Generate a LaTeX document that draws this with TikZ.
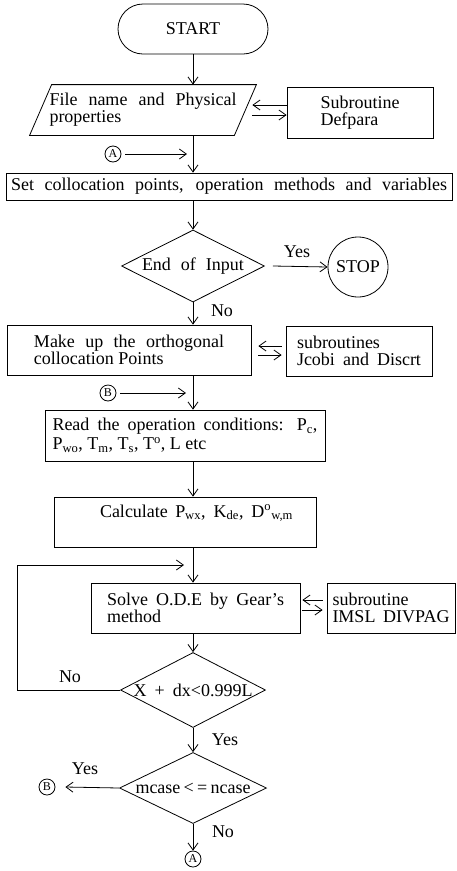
\documentclass[tikz,border=0pt]{standalone}
\usepackage{fontspec}
\setmainfont{Liberation Serif}
\usetikzlibrary{arrows.meta,shapes.geometric,calc}
\newcommand{\myfs}{\fontsize{18}{17}\selectfont}
\newcommand{\jl}[2]{\makebox[#1pt][s]{#2}}
\begin{document}
\begin{tikzpicture}[x=1pt,y=-1pt,line width=0.8pt,
  box/.style={draw,rectangle,inner sep=0pt,align=left,font=\myfs},
  arr/.style={-{Straight Barb[length=7pt,width=10pt]}},
  lbl/.style={font=\myfs,inner sep=0pt},
  dia/.style={draw,diamond,aspect=2,inner sep=0pt,font=\myfs},
  conn/.style={draw,circle,inner sep=0pt,minimum size=16pt,font=\fontsize{12}{12}\selectfont}]
\useasboundingbox (0,0) rectangle (456,871);

% START
\node[draw,rounded corners=25pt,minimum width=150pt,minimum height=50pt,font=\myfs] (start) at (193,29) {START};

% File name parallelogram
\node[minimum width=204pt,minimum height=50pt,inner sep=0pt,align=left,font=\myfs] (file) at (143,110)
  {\jl{187}{File name and Physical}\\properties};
\draw ($(file.north west)+(11,0)$) -- ($(file.north east)+(11,0)$) -- ($(file.south east)+(-11,0)$) -- ($(file.south west)+(-11,0)$) -- cycle;
\node[box,minimum width=146pt,minimum height=51pt] (defpara) at (360,112.5) {Subroutine\\Defpara};
\draw[arr] ([yshift=7.5pt]defpara.west) -- ([xshift=7pt,yshift=5pt]file.east);
\draw[arr] ([xshift=7pt,yshift=-5pt]file.east) -- ([yshift=-2.5pt]defpara.west);
\draw[arr] (start.south) -- (start.south |- file.north);

% Set box
\node[box,minimum width=446pt,minimum height=27pt] (set) at (229,186.5)
  {\jl{436}{Set collocation points, operation methods and variables}};
\draw[arr] (start.south |- file.south) -- (start.south |- set.north);
\node[conn] (ca) at (113,154) {A};
\coordinate (ma) at (187,154);
\draw[arr] ([xshift=4pt]ca.east) -- (ma);

% End of input
\node[dia,minimum width=143pt,minimum height=72pt] (end) at (193,266) {\jl{102}{End of Input}};
\draw[arr] (start.south |- set.south) -- (end.north);
\node[draw,circle,minimum size=60pt,inner sep=0pt,font=\myfs] (stop) at (358,267) {STOP};
\draw[arr] ([xshift=8pt]end.east) -- (stop.west);
\node[lbl] (y1) at (297,252) {Yes};

% Make up box
\node[box,minimum width=244pt,minimum height=50pt] (mk) at (129,350)
  {\jl{190}{Make up the orthogonal}\\collocation Points};
\draw[arr] (end.south) -- (end.south |- mk.north);
\node[lbl] (n1) at (222,311) {No};
\node[box,minimum width=146pt,minimum height=50pt] (jc) at (359,351)
  {subroutines\\\jl{124}{Jcobi and Discrt}};
\draw[arr] ([xshift=-4pt,yshift=5pt]jc.west) -- ([xshift=7pt,yshift=4pt]mk.east);
\draw[arr] ([xshift=7pt,yshift=-5pt]mk.east) -- ([xshift=-4pt,yshift=-4pt]jc.west);
\node[conn] (cb) at (108,393) {B};
\coordinate (mb) at (186,393);
\draw[arr] ([xshift=4pt]cb.east) -- (mb);

% Read box
\node[box,minimum width=280pt,minimum height=51pt] (rd) at (185,435.5)
  {\jl{265}{Read the operation conditions: P\textsubscript{c},}\\[2pt]P\textsubscript{wo}, T\textsubscript{m}, T\textsubscript{s}, T\textsuperscript{o}, L etc};
\draw[arr] (end.south |- mk.south) -- (end.south |- rd.north);

% Calculate box
\node[box,align=center,minimum width=262pt,minimum height=50pt] (calc) at (185,522)
  {\hspace*{23pt}\jl{193}{Calculate P\textsubscript{wx}, K\textsubscript{de}, D\textsuperscript{o}\textsubscript{w,m}}\\\strut};
\draw[arr] (end.south |- rd.south) -- (end.south |- calc.north);

% Solve box
\node[box,minimum width=209pt,minimum height=50pt] (solve) at (195.5,608)
  {\jl{177}{Solve O.D.E by Gear's}\\method};
\draw[arr] (end.south |- calc.south) -- (end.south |- solve.north);
\node[box,minimum width=128pt,minimum height=50pt] (imsl) at (391,608)
  {subroutine\\\jl{117}{IMSL DIVPAG}};
\draw[arr] ([xshift=-4pt,yshift=8pt]imsl.west) -- ([xshift=2pt,yshift=8pt]solve.east);
\draw[arr] ([xshift=2pt,yshift=-2pt]solve.east) -- ([xshift=-4pt,yshift=-2pt]imsl.west);

% X + dx diamond
\node[dia,minimum width=145pt,minimum height=75pt] (xd) at (193,690) {\jl{119}{X + dx<0.999L}};
\draw[arr] (end.south |- solve.south) -- (xd.north);
\coordinate (lp) at (17,565);
\coordinate (lpe) at (184,565);
\draw[arr] (xd.west) -| (lp) -- (lpe);
\node[lbl] (n2) at (70,677) {No};

% mcase diamond
\node[dia,minimum width=147pt,minimum height=71pt] (mc) at (193,788) {\jl{115}{mcase < = ncase}};
\draw[arr] (xd.south) -- (mc.north);
\node[lbl] (y2) at (225,740) {Yes};
\node[conn] (cb2) at (47,787) {B};
\draw[arr] (mc.west) -- ([xshift=10pt]cb2.east);
\node[lbl] (y3) at (85,769) {Yes};
\node[conn] (ca2) at (193,859) {A};
\draw[arr] (mc.south) -- (ca2.north);
\node[lbl] (n3) at (223,832) {No};
\end{tikzpicture}
\end{document}
